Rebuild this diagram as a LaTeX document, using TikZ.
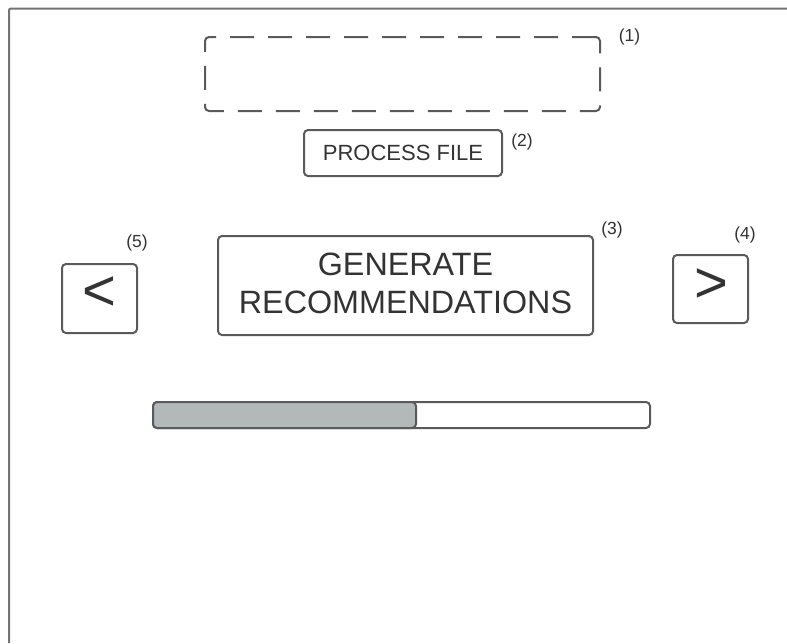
\documentclass[tikz,border=0pt]{standalone}
\usepackage{fontspec}
\setmainfont{Liberation Sans}
\definecolor{edge}{HTML}{5A5A5A}
\definecolor{ink}{HTML}{333333}
\definecolor{barfill}{HTML}{B3B8B9}
\tikzset{
  uibox/.style={draw=edge, line width=2pt, rounded corners=4pt, fill=white, inner sep=0pt, text=ink},
  droparea/.style={uibox, dash pattern=on 24pt off 14pt},
  tag/.style={text=ink, inner sep=0pt, font=\fontsize{17.5}{19}\selectfont},
  chevron/.style={text=ink, inner sep=0pt, font=\fontsize{58}{60}\selectfont},
}
\begin{document}
\begin{tikzpicture}[x=1pt, y=-1pt]
\useasboundingbox (0,0) rectangle (787,643);
\fill[white] (0,0) rectangle (787,643);
% outer frame (top and left edges)
\draw[edge!85, line width=2pt, rounded corners=2pt] (9,643) -- (9,8.5) -- (787,8.5);

\node[droparea, minimum width=395pt, minimum height=74pt] (drop) at (402.5,74) {};
\node[tag] (t1) at (629.5,37) {(1)};

\node[uibox, minimum width=198pt, minimum height=46pt, font=\fontsize{22}{24}\selectfont] (proc) at (403,153) {PROCESS FILE};
\node[tag] (t2) at (522,142) {(2)};

\node[uibox, minimum width=375pt, minimum height=99pt] (gen) at (405.5,285.5) {};
\node[text=ink, inner sep=0pt, align=center, font=\fontsize{32.3}{38}\selectfont] (gentext) at (405.5,283.5) {GENERATE\\RECOMMENDATIONS};
\node[tag] (t3) at (612,230) {(3)};

\node[uibox, minimum width=75pt, minimum height=69pt] (prev) at (99.5,298.5) {};
\node[chevron] (lt) at (99.5,294) {<};
\node[tag] (t5) at (137,243) {(5)};

\node[uibox, minimum width=75pt, minimum height=68pt] (next) at (710.5,289) {};
\node[chevron] (gt) at (711,286) {>};
\node[tag] (t4) at (745,235) {(4)};

% progress bar
\draw[uibox] (153,402) rectangle (650,428);
\draw[uibox, fill=barfill] (153,402) rectangle (416,428);
\end{tikzpicture}
\end{document}
